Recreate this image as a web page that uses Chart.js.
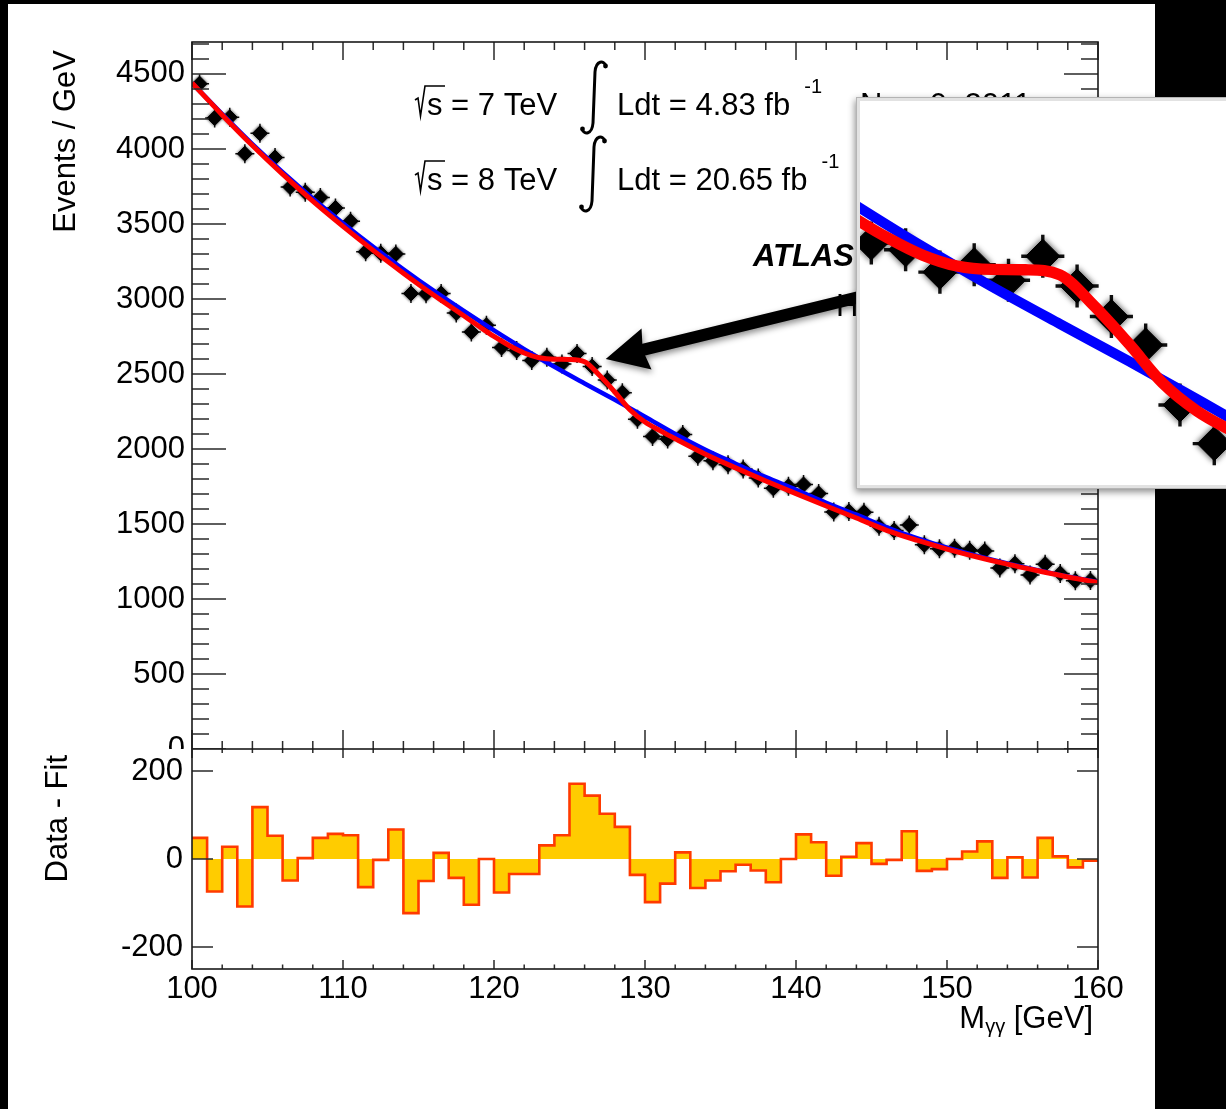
<!DOCTYPE html>
<html>
<head>
<meta charset="utf-8">
<script src="https://cdn.jsdelivr.net/npm/chart.js@4.4.1/dist/chart.umd.min.js"></script>
<style>
  html, body { margin: 0; padding: 0; }
  body { width: 1226px; height: 1109px; background: #000; position: relative; overflow: hidden; }
  #paper { position: absolute; left: 8px; top: 4px; width: 1147px; height: 1105px; background: #fff; }
  canvas { position: absolute; display: block; }
  #mainChart { left: 0; top: 0; }
  #residChart { left: 0; top: 749px; }
  #zoomBox { position: absolute; left: 856px; top: 97px; width: 380px; height: 384px; padding: 3px;
             border: 1px solid #b4b4b4; background: #e2e2e2; box-shadow: -1px 3px 7px rgba(0,0,0,0.45); }
  #zoomChart { left: 3px; top: 3px; background: #fff; }
</style>
</head>
<body>
<div id="paper"></div>
<canvas id="mainChart" width="1226" height="760"></canvas>
<canvas id="residChart" width="1226" height="360"></canvas>
<div id="zoomBox"><canvas id="zoomChart" width="380" height="384"></canvas></div>
<script>
// 1 GeV bins, lower edges
const binLow = [100, 101, 102, 103, 104, 105, 106, 107, 108, 109,
                110, 111, 112, 113, 114, 115, 116, 117, 118, 119,
                120, 121, 122, 123, 124, 125, 126, 127, 128, 129,
                130, 131, 132, 133, 134, 135, 136, 137, 138, 139,
                140, 141, 142, 143, 144, 145, 146, 147, 148, 149,
                150, 151, 152, 153, 154, 155, 156, 157, 158, 159];
const massMax = 160;

// events per bin (data points)
const events = [4435, 4206, 4211, 3968, 4104, 3943, 3746, 3712, 3677, 3606,
                3518, 3315, 3304, 3300, 3036, 3034, 3036, 2907, 2780, 2824,
                2676, 2656, 2590, 2612, 2566, 2637, 2549, 2459, 2375, 2198,
                2084, 2066, 2097, 1952, 1921, 1895, 1867, 1806, 1738, 1751,
                1763, 1703, 1580, 1583, 1578, 1485, 1457, 1493, 1362, 1335,
                1338, 1325, 1320, 1207, 1235, 1160, 1232, 1170, 1122, 1123];

// data - fit per bin
const resid = [48, -74, 28, -108, 118, 53, -49, 2, 48, 57,
               54, -64, -2, 67, -123, -50, 14, -43, -104, 0,
               -76, -34, -34, 31, 54, 171, 144, 103, 73, -36,
               -98, -56, 15, -66, -49, -28, -13, -26, -53, 0,
               56, 38, -38, 5, 36, -11, -2, 63, -27, -23,
               0, 17, 40, -43, 4, -42, 48, 6, -19, -4];

// background-only fit (blue)
const bkgX = [100, 102, 104, 106, 108, 110, 112, 114, 116, 118, 120, 122, 124, 126, 128, 130,
              132, 134, 136, 138, 140, 142, 144, 146, 148, 150, 152, 154, 156, 158, 160];
const bkgY = [4440, 4232, 4032, 3845, 3670, 3505, 3348, 3198, 3055, 2920, 2790, 2665, 2548, 2437, 2328, 2215,
              2100, 1995, 1902, 1812, 1728, 1641, 1562, 1478, 1405, 1342, 1287, 1237, 1192, 1150, 1112];

// signal + background fit (red)
const sbX = [100, 102, 104, 106, 108, 110, 112, 114, 116, 118, 119, 120, 121, 122, 123, 124, 125, 126, 127,
             128, 129, 130, 131, 132, 134, 136, 138, 140, 142, 144, 146, 148, 150, 152, 154, 156, 158, 160];
const sbY = [4440, 4227, 4023, 3832, 3652, 3484, 3324, 3172, 3026, 2888, 2818, 2750, 2690, 2640, 2608, 2598, 2597, 2582, 2490,
             2380, 2262, 2180, 2122, 2068, 1965, 1874, 1786, 1702, 1620, 1540, 1458, 1392, 1333, 1280, 1232, 1188, 1147, 1110];

// tick labels
const massTicks = [100, 110, 120, 130, 140, 150, 160];
const eventTicks = [0, 500, 1000, 1500, 2000, 2500, 3000, 3500, 4000, 4500];
const residTicks = [-200, 0, 200];

// arrow from the label towards the bump (data coordinates)
const arrowTip = { x: 127.4, y: 2600 };
const arrowTail = { x: 146, y: 3057 };

const FONT = '"Liberation Sans", Arial, Helvetica, sans-serif';

const centres = binLow.map(v => v + 0.5);
const eventPts = centres.map((x, i) => ({ x, y: events[i] }));
const bkgPts = bkgX.map((x, i) => ({ x, y: bkgY[i] }));
const sbPts = sbX.map((x, i) => ({ x, y: sbY[i] }));
const residPts = binLow.map((x, i) => ({ x, y: resid[i] }));
residPts.push({ x: massMax, y: resid[resid.length - 1] });

const fixedTicks = vals => scale => { scale.ticks = vals.map(v => ({ value: v })); };
const plainLabel = v => String(v);

// ROOT-like inward ticks and frame
function rootFrame(chart, s) {
  const { ctx, chartArea: a, scales: { x, y } } = chart;
  ctx.save();
  ctx.strokeStyle = '#2a2a2a';
  ctx.lineWidth = 1.5;
  ctx.beginPath();
  for (let v = s.xFrom; v <= s.xTo + 1e-9; v += s.xMinor) {
    const px = x.getPixelForValue(v);
    const major = Math.abs(v % s.xMajor) < 1e-6;
    const lt = major ? s.topMajor : s.topMinor;
    const lb = major ? s.botMajor : s.botMinor;
    if (lt) { ctx.moveTo(px, a.top); ctx.lineTo(px, a.top + lt); }
    if (lb) { ctx.moveTo(px, a.bottom); ctx.lineTo(px, a.bottom - lb); }
  }
  for (let v = s.yFrom; v <= s.yTo + 1e-9; v += s.yMinor) {
    const py = y.getPixelForValue(v);
    const major = Math.abs(v % s.yMajor) < 1e-6;
    const l = major ? s.sideMajor : s.sideMinor;
    ctx.moveTo(a.left, py); ctx.lineTo(a.left + l, py);
    ctx.moveTo(a.right, py); ctx.lineTo(a.right - l, py);
  }
  ctx.stroke();
  ctx.strokeStyle = '#1a1a1a';
  ctx.lineWidth = s.frameWidth;
  ctx.strokeRect(a.left, a.top, a.right - a.left, a.bottom - a.top);
  ctx.restore();
}

// soft edge on the data markers
const glowPlugin = {
  id: 'glow',
  beforeDatasetDraw(chart, args) {
    if (!args.meta._dataset.glow) return;
    chart.ctx.save();
    chart.ctx.shadowColor = 'rgba(0,0,0,0.75)';
    chart.ctx.shadowBlur = args.meta._dataset.glow;
  },
  afterDatasetDraw(chart, args) {
    if (!args.meta._dataset.glow) return;
    chart.ctx.restore();
  }
};

function drawIntegral(ctx, x, yTop, yBot) {
  ctx.beginPath();
  ctx.moveTo(x + 12, yTop + 5);
  ctx.bezierCurveTo(x + 10, yTop - 1, x + 2, yTop - 1, x + 1, yTop + 11);
  ctx.lineTo(x - 1, yBot - 11);
  ctx.bezierCurveTo(x - 2, yBot + 1, x - 10, yBot + 1, x - 12, yBot - 5);
  ctx.stroke();
  ctx.beginPath();
  ctx.arc(x + 11.5, yTop + 5, 2.4, 0, Math.PI * 2);
  ctx.arc(x - 11.5, yBot - 5, 2.4, 0, Math.PI * 2);
  ctx.fill();
}

function drawEnergyLine(ctx, x, base, energy, lumi) {
  // radical sign over s
  ctx.lineWidth = 1.6;
  ctx.beginPath();
  ctx.moveTo(x, base - 15);
  ctx.lineTo(x + 3, base - 17);
  ctx.lineTo(x + 5.5, base + 1);
  ctx.lineTo(x + 10, base - 29);
  ctx.lineTo(x + 30, base - 29);
  ctx.stroke();
  ctx.font = '31px ' + FONT;
  ctx.fillText('s', x + 12, base);
  const sw = ctx.measureText('s').width;
  ctx.fillText(' = ' + energy + ' TeV', x + 12 + sw, base);
  ctx.fillText('Ldt = ' + lumi + ' fb', 617, base);
  const lw = ctx.measureText('Ldt = ' + lumi + ' fb').width;
  ctx.font = '20px ' + FONT;
  ctx.fillText('-1', 617 + lw + 14, base - 22);
}

const mainDecor = {
  id: 'mainDecor',
  afterDraw(chart) {
    const { ctx, scales: { x, y } } = chart;
    rootFrame(chart, {
      xFrom: 100, xTo: 160, xMinor: 2, xMajor: 10,
      topMajor: 18, topMinor: 8, botMajor: 19, botMinor: 8,
      yFrom: 0, yTo: 4700, yMinor: 100, yMajor: 500,
      sideMajor: 34, sideMinor: 17, frameWidth: 1.6
    });
    ctx.save();
    ctx.fillStyle = '#000';
    ctx.strokeStyle = '#000';
    ctx.textBaseline = 'alphabetic';

    // axis title
    ctx.save();
    ctx.font = '31px ' + FONT;
    ctx.translate(75, 50);
    ctx.rotate(-Math.PI / 2);
    ctx.textAlign = 'right';
    ctx.fillText('Events / GeV', 0, 0);
    ctx.restore();

    // luminosity labels
    drawEnergyLine(ctx, 415, 115, '7', '4.83');
    drawEnergyLine(ctx, 415, 190, '8', '20.65');
    ctx.lineWidth = 3;
    drawIntegral(ctx, 594, 61, 134);
    drawIntegral(ctx, 593, 136, 212);

    ctx.font = '31px ' + FONT;
    ctx.fillText('Nov. 9, 2011', 860, 115);
    ctx.font = 'italic bold 31px ' + FONT;
    ctx.fillText('ATLAS', 753, 266);
    ctx.font = '31px ' + FONT;
    ctx.fillText('H\u2192\u03b3\u03b3', 836, 316);

    // arrow
    const tx = x.getPixelForValue(arrowTip.x), ty = y.getPixelForValue(arrowTip.y);
    const sx = x.getPixelForValue(arrowTail.x), sy = y.getPixelForValue(arrowTail.y);
    const len = Math.hypot(sx - tx, sy - ty);
    const ux = (sx - tx) / len, uy = (sy - ty) / len;
    const bx = tx + ux * 42, by = ty + uy * 42;
    ctx.shadowColor = 'rgba(0,0,0,0.45)';
    ctx.shadowBlur = 6;
    ctx.shadowOffsetX = 1;
    ctx.shadowOffsetY = 3;
    ctx.lineWidth = 12;
    ctx.beginPath();
    ctx.moveTo(bx - ux * 6, by - uy * 6);
    ctx.lineTo(sx, sy);
    ctx.stroke();
    ctx.beginPath();
    ctx.moveTo(tx, ty);
    ctx.lineTo(bx - uy * 21, by + ux * 21);
    ctx.lineTo(bx - ux * 4, by - uy * 4);
    ctx.lineTo(bx + uy * 21, by - ux * 21);
    ctx.closePath();
    ctx.fill();
    ctx.restore();
  }
};

const residDecor = {
  id: 'residDecor',
  beforeDraw(chart) {
    const ctx = chart.ctx;
    ctx.save();
    ctx.fillStyle = '#fff';
    ctx.fillRect(8, 0, 1147, chart.height);
    ctx.restore();
  },
  afterDraw(chart) {
    rootFrame(chart, {
      xFrom: 100, xTo: 160, xMinor: 2, xMajor: 10,
      topMajor: 9, topMinor: 4, botMajor: 9, botMinor: 4.5,
      yFrom: -200, yTo: 200, yMinor: 200, yMajor: 200,
      sideMajor: 21, sideMinor: 21, frameWidth: 1.6
    });
    const ctx = chart.ctx;
    ctx.save();
    ctx.fillStyle = '#000';
    ctx.font = '31px ' + FONT;
    ctx.save();
    ctx.translate(67, 6);
    ctx.rotate(-Math.PI / 2);
    ctx.textAlign = 'right';
    ctx.fillText('Data - Fit', 0, 0);
    ctx.restore();

    // M_{γγ} [GeV], right aligned at the frame end
    const base = 279;
    ctx.font = '31px ' + FONT;
    const wM = ctx.measureText('M').width;
    const wU = ctx.measureText(' [GeV]').width;
    ctx.font = '20px ' + FONT;
    const wS = ctx.measureText('\u03b3\u03b3').width;
    const xs = 1093 - wM - wS - wU;
    ctx.font = '31px ' + FONT;
    ctx.fillText('M', xs, base);
    ctx.font = '20px ' + FONT;
    ctx.fillText('\u03b3\u03b3', xs + wM, base + 5);
    ctx.font = '31px ' + FONT;
    ctx.fillText(' [GeV]', xs + wM + wS, base);
    ctx.restore();
  }
};

function fitDatasets(scale) {
  return [
    { data: sbPts, borderColor: '#ff0000', borderWidth: 5 * scale, pointRadius: 0,
      cubicInterpolationMode: 'monotone', fill: false, order: 0 },
    { data: bkgPts, borderColor: '#0000ff', borderWidth: 4.5 * scale, pointRadius: 0,
      cubicInterpolationMode: 'monotone', fill: false, order: 1 },
    { data: eventPts, showLine: false, pointStyle: 'rectRot', pointRadius: 7.5 * scale,
      backgroundColor: '#000', borderColor: '#000', borderWidth: 1, order: 2, glow: 3 * scale },
    { data: eventPts, showLine: false, pointStyle: 'cross', pointRadius: 9.5 * scale,
      borderColor: '#111', borderWidth: 1.5 * scale, order: 3 }
  ];
}

const tickFont = { family: FONT, size: 31 };

new Chart(document.getElementById('mainChart'), {
  type: 'line',
  data: { datasets: fitDatasets(1) },
  options: {
    responsive: false,
    devicePixelRatio: 1,
    animation: false,
    events: [],
    layout: { autoPadding: false, padding: { left: 0, top: 42, right: 128, bottom: 11 } },
    plugins: { legend: { display: false }, tooltip: { enabled: false } },
    scales: {
      x: { type: 'linear', min: 100, max: 160, display: false },
      y: {
        type: 'linear', min: 0, max: 4713,
        grid: { display: false, drawTicks: false },
        border: { display: false },
        ticks: { autoSkip: false, padding: 7, color: '#000', font: tickFont, callback: plainLabel },
        afterBuildTicks: fixedTicks(eventTicks),
        afterFit: s => { s.width = 192; s.paddingTop = 0; s.paddingBottom = 0; }
      }
    }
  },
  plugins: [glowPlugin, mainDecor]
});

new Chart(document.getElementById('residChart'), {
  type: 'line',
  data: {
    datasets: [{
      data: residPts, stepped: 'before', fill: 'origin',
      borderColor: '#ff3a00', backgroundColor: '#ffcc00', borderWidth: 2.6, pointRadius: 0
    }]
  },
  options: {
    responsive: false,
    devicePixelRatio: 1,
    animation: false,
    events: [],
    layout: { autoPadding: false, padding: { left: 0, top: 0, right: 128, bottom: 80 } },
    plugins: { legend: { display: false }, tooltip: { enabled: false } },
    scales: {
      x: {
        type: 'linear', min: 100, max: 160,
        grid: { display: false, drawTicks: false },
        border: { display: false },
        ticks: { padding: 2, maxRotation: 0, autoSkip: false, color: '#000', font: tickFont, callback: plainLabel },
        afterBuildTicks: fixedTicks(massTicks),
        afterFit: s => { s.height = 60; s.paddingLeft = 0; s.paddingRight = 0; }
      },
      y: {
        type: 'linear', min: -250, max: 250,
        grid: { display: false, drawTicks: false },
        border: { display: false },
        ticks: { autoSkip: false, padding: 9, color: '#000', font: tickFont, callback: plainLabel },
        afterBuildTicks: fixedTicks(residTicks),
        afterFit: s => { s.width = 192; s.paddingTop = 0; s.paddingBottom = 0; }
      }
    }
  },
  plugins: [residDecor]
});

// magnified view of the bump
new Chart(document.getElementById('zoomChart'), {
  type: 'line',
  data: { datasets: fitDatasets(2.27) },
  options: {
    responsive: false,
    devicePixelRatio: 1,
    animation: false,
    events: [],
    layout: { autoPadding: false, padding: 0 },
    plugins: { legend: { display: false }, tooltip: { enabled: false } },
    scales: {
      x: { type: 'linear', min: 120.17, max: 131.25, display: false },
      y: { type: 'linear', min: 1962, max: 3095, display: false }
    }
  },
  plugins: [glowPlugin]
});
</script>
</body>
</html>
